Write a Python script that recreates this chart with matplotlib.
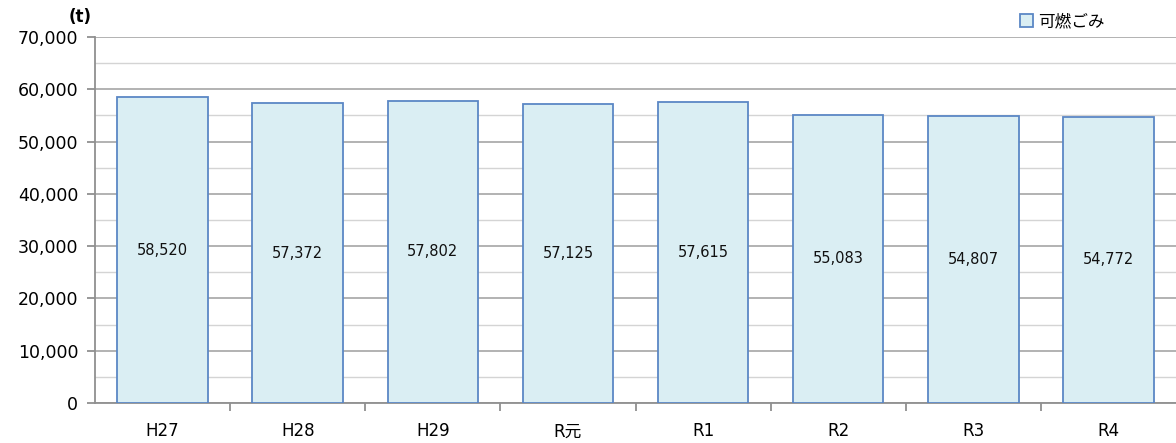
import matplotlib.pyplot as plt
from matplotlib.ticker import MultipleLocator, FuncFormatter
from matplotlib.patches import Patch

plt.rcParams['font.family'] = ['DejaVu Sans', 'Noto Sans CJK JP']

# ===== DATA =====
years = ["H27", "H28", "H29", "R元", "R1", "R2", "R3", "R4"]
burnable = [58520, 57372, 57802, 57125, 57615, 55083, 54807, 54772]
series_name = "可燃ごみ"

# ===== STYLE =====
bar_face = "#DAEEF3"
bar_edge = "#5B87C5"

fig = plt.figure(figsize=(11.76, 4.43), dpi=100)
ax = fig.add_axes([0.0808, 0.0903, 0.9192, 0.8262])

x = list(range(len(years)))
bars = ax.bar(x, burnable, width=0.67, color=bar_face, edgecolor=bar_edge,
              linewidth=1.3, zorder=3)

for b, v in zip(bars, burnable):
    ax.text(b.get_x() + b.get_width() / 2, v / 2, f"{v:,}",
            ha="center", va="center", fontsize=10.5, color="#111111", zorder=4)

ax.set_xlim(-0.5, len(years) - 0.5)
ax.set_ylim(0, 70000)
ax.yaxis.set_major_locator(MultipleLocator(10000))
ax.yaxis.set_minor_locator(MultipleLocator(5000))
ax.yaxis.set_major_formatter(FuncFormatter(lambda v, p: f"{int(v):,}"))

ax.grid(axis="y", which="major", color="#A6A6A6", linewidth=1.2, zorder=0)
ax.grid(axis="y", which="minor", color="#D4D4D4", linewidth=1.0, zorder=0)

ax.set_xticks(x)
ax.set_xticklabels(years, fontsize=12)
ax.set_xticks([i + 0.5 for i in x[:-1]], minor=True)
ax.tick_params(axis="x", which="major", length=0, pad=14)
ax.tick_params(axis="x", which="minor", length=6, color="#909090", width=1.3)
ax.tick_params(axis="y", which="major", labelsize=12.5, length=6,
               color="#909090", width=1.3, pad=6)
ax.tick_params(axis="y", which="minor", length=0)

for s in ["top", "right"]:
    ax.spines[s].set_visible(False)
for s in ["left", "bottom"]:
    ax.spines[s].set_color("#909090")
    ax.spines[s].set_linewidth(1.3)

fig.text(0.058, 0.962, "(t)", fontsize=12, fontweight="bold", ha="left", va="center")

handle = Patch(facecolor=bar_face, edgecolor=bar_edge, linewidth=1.3)
ax.legend([handle], [series_name], loc="upper right", bbox_to_anchor=(0.94, 1.085),
          frameon=False, fontsize=12, handlelength=0.8, handleheight=0.8,
          handletextpad=0.3, borderaxespad=0)

fig.savefig("out.png", dpi=100)
